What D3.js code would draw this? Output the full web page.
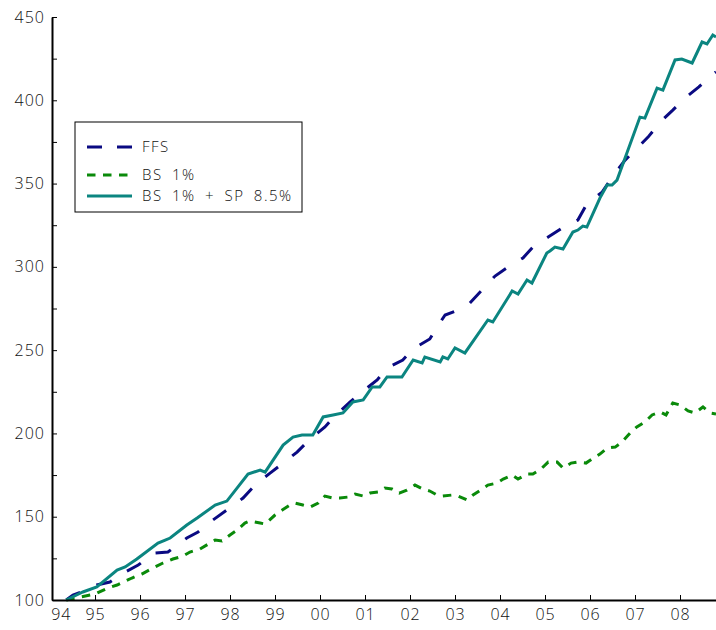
<!DOCTYPE html>
<html>
<head>
<meta charset="utf-8">
<script src="https://cdn.jsdelivr.net/npm/d3@7"></script>
<style>
	body{margin:0;background:#fff;}
	text{font-family:"Open Sans","DejaVu Sans",sans-serif;font-weight:300;fill:#111;}
</style>
</head>
<body>
<div id="chart"></div>
<script>
// series, [year, index]
var ffs = [[1994.36,100],[1994.51,103.0],[1994.82,106.0],[1995.04,109.0],[1995.33,110.8],[1995.67,116.8],[1995.96,121.0],[1996.33,128.2],[1996.62,128.8],[1997.04,137.2],[1997.29,140.8],[1997.62,148.0],[1997.93,154.0],[1998.29,161.2],[1998.60,170.2],[1998.89,176.2],[1999.18,182.2],[1999.49,188.8],[1999.78,196.6],[2000.11,203.9],[2000.33,210.5],[2000.67,218.9],[2000.96,225.5],[2001.27,232.1],[2001.49,239.3],[2001.84,244.1],[2002.07,250.7],[2002.44,256.7],[2002.60,263.9],[2002.78,271.1],[2003.07,274.1],[2003.33,278.3],[2003.60,286.1],[2003.89,294.5],[2004.18,299.9],[2004.51,305.3],[2004.73,311.9],[2005.07,317.9],[2005.38,323.3],[2005.73,328.1],[2005.93,337.7],[2006.27,344.9],[2006.51,354.5],[2006.78,364.1],[2007.07,371.9],[2007.29,377.9],[2007.56,386.9],[2007.84,394.1],[2008.11,401.4],[2008.42,408.0],[2008.71,415.2],[2008.80,417.0]]

var bs = [[1994.36,100],[1994.67,101.8],[1994.89,103.0],[1995.00,103.6],[1995.29,107.2],[1995.49,109.0],[1995.82,113.2],[1996.04,115.6],[1996.29,119.2],[1996.51,122.2],[1996.73,124.6],[1996.96,126.4],[1997.11,128.8],[1997.33,130.6],[1997.67,136.0],[1997.82,135.4],[1998.00,139.0],[1998.16,142.0],[1998.33,146.2],[1998.44,147.4],[1998.67,146.2],[1998.78,145.6],[1999.00,151.0],[1999.16,154.0],[1999.33,157.0],[1999.44,158.2],[1999.62,157.0],[1999.78,155.8],[1999.96,158.2],[2000.11,162.4],[2000.29,161.2],[2000.44,161.2],[2000.62,161.8],[2000.78,163.6],[2000.96,162.4],[2001.11,164.2],[2001.29,164.8],[2001.44,167.2],[2001.60,166.6],[2001.76,164.2],[2001.93,166.0],[2002.11,169.0],[2002.29,166.6],[2002.44,165.4],[2002.60,163.0],[2002.73,162.4],[2002.93,163.0],[2003.07,162.4],[2003.27,160.0],[2003.40,163.0],[2003.60,166.6],[2003.73,169.0],[2003.93,170.2],[2004.07,172.6],[2004.27,175.0],[2004.40,172.6],[2004.60,175.6],[2004.73,175.6],[2004.91,178.6],[2005.07,182.8],[2005.27,182.8],[2005.40,179.2],[2005.58,182.2],[2005.71,182.8],[2005.91,182.2],[2006.07,185.2],[2006.22,187.6],[2006.38,191.2],[2006.56,191.8],[2006.71,194.8],[2006.89,200.2],[2007.04,203.9],[2007.22,206.9],[2007.38,211.1],[2007.56,212.9],[2007.69,211.1],[2007.84,218.3],[2008.00,217.1],[2008.18,213.5],[2008.33,212.3],[2008.51,215.9],[2008.67,212.3],[2008.80,211.7]]

var bsSp = [[1994.36,100],[1994.73,104.8],[1995.04,107.8],[1995.49,118.0],[1995.67,119.8],[1995.93,124.6],[1996.40,134.2],[1996.56,136.0],[1996.67,137.2],[1997.04,145.0],[1997.27,149.2],[1997.67,157.0],[1997.93,159.4],[1998.40,175.6],[1998.67,178.0],[1998.78,176.8],[1999.18,193.0],[1999.40,197.8],[1999.60,199.0],[1999.84,199.0],[2000.07,209.9],[2000.29,211.1],[2000.51,212.3],[2000.73,218.9],[2000.96,220.1],[2001.16,227.9],[2001.33,227.9],[2001.49,233.9],[2001.82,233.9],[2002.07,244.1],[2002.27,242.3],[2002.33,245.9],[2002.67,242.9],[2002.73,245.9],[2002.84,244.7],[2003.00,251.3],[2003.22,248.3],[2003.73,268.1],[2003.84,266.9],[2004.27,285.5],[2004.40,283.7],[2004.60,292.1],[2004.71,290.3],[2005.04,308.3],[2005.11,309.5],[2005.22,311.9],[2005.40,310.7],[2005.62,320.9],[2005.73,322.1],[2005.84,324.5],[2005.93,323.9],[2006.07,332.3],[2006.22,341.3],[2006.38,349.1],[2006.49,349.1],[2006.60,352.1],[2006.82,368.3],[2007.11,389.9],[2007.22,389.3],[2007.49,407.3],[2007.62,406.1],[2007.89,424.2],[2008.04,424.8],[2008.27,422.4],[2008.49,435.0],[2008.60,433.8],[2008.73,439.2],[2008.80,438.0]]

var xTickYears = [1995,1996,1997,1998,1999,2000,2001,2002,2003,2004,2005,2006,2007,2008]
var firstLabelYear = 1994.25
var yTicks = [100,125,150,175,200,225,250,275,300,325,350,375,400,425,450]
var seriesNames = ["FFS", "BS 1%", "BS 1% + SP 8.5%"]

var width = 716
var height = 630
var margin = {"top":17, "right":0, "bottom":30, "left":52}

var svg = d3.select("#chart").append("svg").attr("width", width).attr("height", height)

//scales
var x = d3.scaleLinear().domain([1994.044, 2008.8]).range([margin.left, width-margin.right])
var y = d3.scaleLinear().domain([100, 450]).range([height-margin.bottom, margin.top])

//lines
var line = d3.line().x(d=>x(d[0])).y(d=>y(d[1]))
var styles = [
	{"data":ffs, "color":"#0a0a82", "dash":"16,18"},
	{"data":bs, "color":"#0a8a0a", "dash":"8.5,7.5"},
	{"data":bsSp, "color":"#0b8580", "dash":null}
]
styles.forEach(function(s){
	svg.append("path")
		.datum(s.data)
		.attr("fill", "none")
		.attr("stroke", s.color)
		.attr("stroke-width", 3)
		.attr("stroke-dasharray", s.dash)
		.attr("d", line)
})

//x axis
var xAxis = svg.append("g")
	.attr("transform", "translate(0,"+(height-margin.bottom)+")")
	.call(d3.axisBottom(x).tickValues(xTickYears).tickSize(-5).tickSizeOuter(0).tickPadding(9)
		.tickFormat(d=>String(d).slice(2)))
xAxis.select(".domain").attr("stroke-width", 2)
xAxis.selectAll("text").attr("font-size", 16).attr("fill", "#111").attr("letter-spacing", 1)
xAxis.append("text")
	.attr("x", x(firstLabelYear))
	.attr("y", 9)
	.attr("dy", "0.71em")
	.attr("text-anchor", "middle")
	.attr("font-size", 16)
	.attr("letter-spacing", 1)
	.text("94")

//y axis
var yAxis = svg.append("g")
	.attr("transform", "translate("+margin.left+",0)")
	.call(d3.axisLeft(y).tickValues(yTicks).tickSize(-5).tickSizeOuter(0).tickPadding(7)
		.tickFormat(d=> d%50==0 ? d : ""))
yAxis.select(".domain").attr("stroke-width", 2)
yAxis.selectAll("text").attr("font-size", 16).attr("fill", "#111").attr("letter-spacing", 1)

//legend
var legend = svg.append("g")
legend.append("rect")
	.attr("x", 75).attr("y", 122).attr("width", 227).attr("height", 90)
	.attr("fill", "#fff").attr("stroke", "#000").attr("stroke-width", 1)
var rowY = [147, 175, 196]
styles.forEach(function(s, i){
	legend.append("line")
		.attr("x1", 87).attr("x2", 132)
		.attr("y1", rowY[i]).attr("y2", rowY[i])
		.attr("stroke", s.color)
		.attr("stroke-width", 3)
		.attr("stroke-dasharray", i==0 ? "15,15" : s.dash)
	legend.append("text")
		.attr("x", 142).attr("y", rowY[i])
		.attr("dy", "0.35em")
		.attr("font-size", 15)
		.attr("letter-spacing", 1.5)
		.attr("word-spacing", 4)
		.text(seriesNames[i])
})
</script>
</body>
</html>
